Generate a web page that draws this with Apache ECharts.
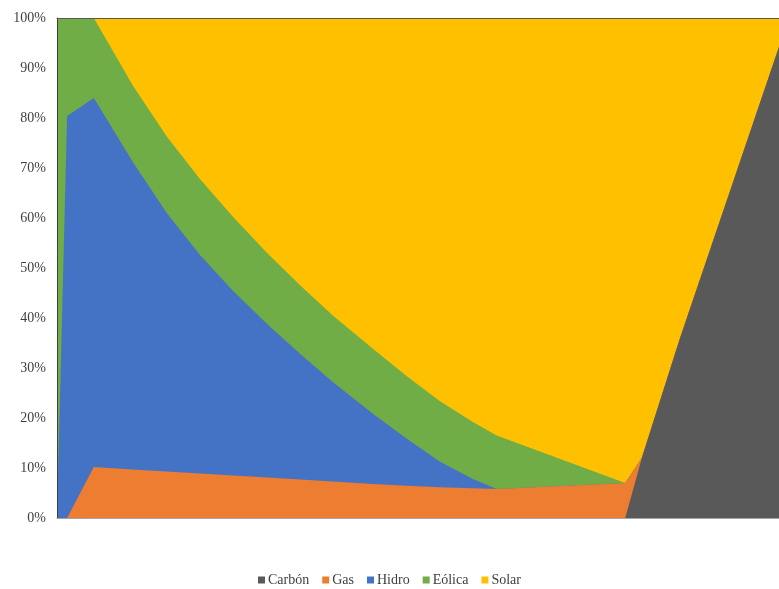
<!DOCTYPE html>
<html>
<head>
<meta charset="utf-8">
<script src="https://cdn.jsdelivr.net/npm/echarts@6/dist/echarts.min.js"></script>
<style>
  html, body { margin: 0; padding: 0; background: #ffffff; }
  #chart { width: 779px; height: 589px; }
</style>
</head>
<body>
<div id="chart"></div>
<script>
// Position of each sample along the (unlabelled) horizontal axis, 0–100
const xPos = [0, 1.4, 5.1, 10.5, 15.2, 19.8, 24.4, 29.1, 33.7, 38.2, 43.8, 48.5, 53.0, 57.6, 60.9, 78.7, 81.0, 86.3, 100];

// Share of generation by source at each sample (%)
const carbon = [0, 0, 0, 0, 0, 0, 0, 0, 0, 0, 0, 0, 0, 0, 0, 0, 12.0, 36.0, 94.2];
const gas    = [0, 0, 10.2, 9.7, 9.3, 8.9, 8.5, 8.1, 7.7, 7.3, 6.8, 6.45, 6.15, 5.95, 5.8, 7.0, 0, 0, 0];
const hidro  = [0, 80.4, 73.8, 61.5, 51.7, 43.7, 36.9, 30.7, 25.1, 19.9, 14.0, 9.35, 5.15, 1.85, 0, 0, 0, 0, 0];
const eolica = [100, 19.6, 16.0, 15.3, 15.3, 15.2, 14.8, 14.2, 13.7, 13.3, 13.0, 12.5, 12.1, 11.4, 10.7, 0, 0, 0, 0];
const solar  = [0, 0, 0, 13.5, 23.7, 32.2, 39.8, 47.0, 53.5, 59.5, 66.2, 71.7, 76.6, 80.8, 83.5, 93.0, 88.0, 64.0, 5.8];

const seriesNames = ['Carbón', 'Gas', 'Hidro', 'Eólica', 'Solar'];
const seriesValues = [carbon, gas, hidro, eolica, solar];
const seriesColors = ['#595959', '#ED7D31', '#4472C4', '#70AD47', '#FFC000'];

const yTicks = { min: 0, max: 100, interval: 10 };

// Running totals: each band's upper edge is the sum of itself and every band below it
const cumulative = [];
seriesValues.forEach((vals, i) => {
  cumulative.push(vals.map((v, j) => (i > 0 ? cumulative[i - 1][j] : 0) + v));
});

const chart = echarts.init(document.getElementById('chart'), null, { renderer: 'canvas' });

// Each band is filled from the axis up to its running total; upper bands are
// drawn first so the lower ones paint over them.
const series = seriesNames.map((name, i) => ({
  name: name,
  type: 'line',
  data: cumulative[i].map((v, j) => [xPos[j], v]),
  showSymbol: false,
  symbol: 'none',
  z: 2 + (seriesNames.length - i),
  lineStyle: { width: 0, color: seriesColors[i] },
  itemStyle: { color: seriesColors[i] },
  areaStyle: { color: seriesColors[i], opacity: 1, origin: 'start' },
  emphasis: { disabled: true },
  silent: true,
  animation: false
}));

const labelFont = '"Liberation Serif", "Times New Roman", serif';

chart.setOption({
  animation: false,
  backgroundColor: '#ffffff',
  grid: { left: 57, right: 0, top: 18, bottom: 71 },
  legend: {
    top: 568,
    left: 'center',
    icon: 'rect',
    itemWidth: 7,
    itemHeight: 7,
    itemGap: 13,
    textStyle: {
      fontFamily: labelFont,
      fontSize: 14,
      color: '#404040',
      padding: [0, 0, 0, -2]
    },
    data: seriesNames.map((n, i) => ({ name: n, itemStyle: { color: seriesColors[i] } }))
  },
  xAxis: [
    {
      type: 'value',
      min: 0,
      max: 100,
      z: 20,
      axisLine: { show: true, lineStyle: { color: '#a6a6a6', width: 1 } },
      axisTick: { show: false },
      axisLabel: { show: false },
      splitLine: { show: false }
    },
    {
      // upper frame line of the plot
      type: 'value',
      position: 'top',
      min: 0,
      max: 100,
      z: 20,
      axisLine: { show: true, lineStyle: { color: '#595959', width: 1 } },
      axisTick: { show: false },
      axisLabel: { show: false },
      splitLine: { show: false }
    }
  ],
  yAxis: {
    type: 'value',
    min: yTicks.min,
    max: yTicks.max,
    interval: yTicks.interval,
    z: 20,
    axisLine: { show: true, lineStyle: { color: '#404040', width: 1 } },
    axisTick: { show: false },
    splitLine: { show: false },
    axisLabel: {
      formatter: '{value}%',
      margin: 11,
      fontFamily: labelFont,
      fontSize: 14,
      color: '#404040'
    }
  },
  series: series
});
</script>
</body>
</html>
